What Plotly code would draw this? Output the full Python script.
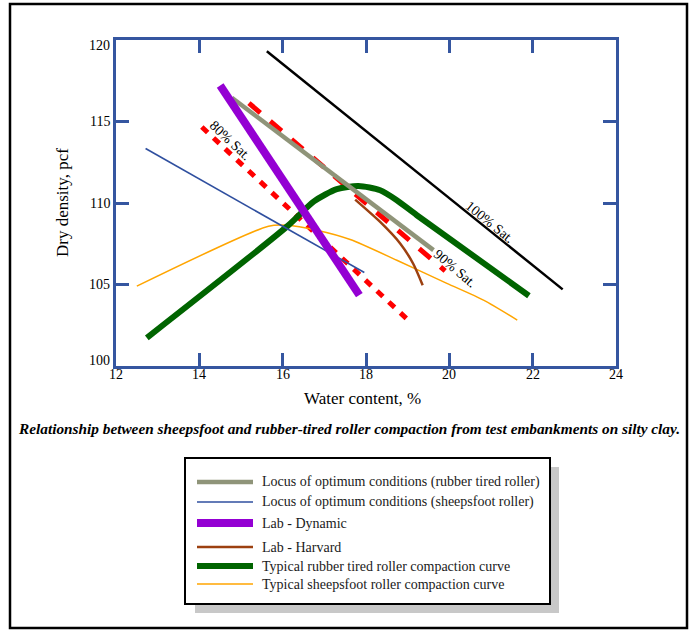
import plotly.graph_objects as go

# ---- data (water content %, dry density pcf) ----
sat100_w = [15.62, 22.72]
sat100_d = [119.31, 104.70]

sat90_w = [15.19, 19.90]
sat90_d = [116.13, 105.84]

sat80_w = [14.06, 19.01]
sat80_d = [114.66, 102.82]

locus_rubber_w = [14.78, 19.62]
locus_rubber_d = [116.46, 107.11]

locus_sheeps_w = [12.71, 17.96]
locus_sheeps_d = [113.34, 105.74]

lab_dynamic_w = [14.50, 17.84]
lab_dynamic_d = [117.21, 104.35]

lab_harvard_w = [17.74, 18.34, 18.82, 19.13, 19.36]
lab_harvard_d = [110.21, 108.84, 107.52, 106.29, 104.96]

rubber_curve_w = [12.74, 16.10, 16.75, 17.30, 17.82, 18.34, 18.74, 19.22, 21.91]
rubber_curve_d = [101.73, 108.55, 110.10, 110.85, 111.04, 110.78, 110.17, 109.25, 104.31]

sheeps_curve_w = [12.50, 15.66, 16.10, 16.82, 17.62, 18.74, 19.94, 20.82, 21.63]
sheeps_curve_d = [104.90, 108.58, 108.64, 108.33, 107.76, 106.49, 105.07, 104.04, 102.82]

x_ticks = [12, 14, 16, 18, 20, 22, 24]
y_ticks = [100, 105, 110, 115, 120]

legend_names = [
    "Locus of optimum conditions (rubber tired roller)",
    "Locus of optimum conditions (sheepsfoot roller)",
    "Lab - Dynamic",
    "Lab - Harvard",
    "Typical rubber tired roller compaction curve",
    "Typical sheepsfoot roller compaction curve",
]

SERIF = "Liberation Serif, Times New Roman, serif"
AXIS_BLUE = "#3556a0"
C_GRAY = "#8f9479"
C_BLUE = "#2f4f9f"
C_PURPLE = "#9400d3"
C_BROWN = "#9c4010"
C_GREEN = "#006400"
C_ORANGE = "#ffa500"

W, H = 690, 634
L, R, T, B = 116, 616, 40, 366  # plot area in pixels


def px(x):
    return (x - L) / (R - L)


def py(y):
    return (B - y) / (B - T)


def text(x, y, s, size, xref="paper", yref="paper", angle=0, xanchor="center",
         yanchor="middle", color="black", yshift=0):
    return dict(x=x, y=y, xref=xref, yref=yref, text=s, textangle=angle,
                xanchor=xanchor, yanchor=yanchor, showarrow=False, yshift=yshift,
                font=dict(family=SERIF, size=size, color=color))


fig = go.Figure()


def add_line(xs, ys, color, width, dash="solid", shape="linear"):
    fig.add_trace(go.Scatter(
        x=xs, y=ys, mode="lines", showlegend=False, hoverinfo="skip",
        line=dict(color=color, width=width, dash=dash, shape=shape, smoothing=0.7),
    ))


# saturation lines
add_line(sat100_w, sat100_d, "black", 2.5)
add_line(sat90_w, sat90_d, "#ff0000", 5, dash="15px,13px")
add_line(sat80_w, sat80_d, "#ff0000", 5, dash="8px,8px")

# compaction curves and loci
add_line(sheeps_curve_w, sheeps_curve_d, C_ORANGE, 1.5, shape="spline")
add_line(rubber_curve_w, rubber_curve_d, C_GREEN, 6, shape="spline")
add_line(locus_sheeps_w, locus_sheeps_d, C_BLUE, 1.6)
add_line(lab_harvard_w, lab_harvard_d, C_BROWN, 2.5, shape="spline")
add_line(locus_rubber_w, locus_rubber_d, C_GRAY, 4.5)
add_line(lab_dynamic_w, lab_dynamic_d, C_PURPLE, 8)

annotations = [
    text(20.98, 108.82, "100% Sat.", 14, xref="x", yref="y", angle=39),
    text(20.14, 106.0, "90% Sat.", 14, xref="x", yref="y", angle=40),
    text(14.74, 113.84, "80% Sat.", 14, xref="x", yref="y", angle=43),
    # axis titles
    text(px(362), py(398), "Water content, %", 17),
    text(px(62), py(203), "Dry density, pcf", 17, angle=-90),
    # caption
    text(px(349), py(428),
         "<b><i>Relationship between sheepsfoot and rubber-tired roller compaction "
         "from test embankments on silty clay.</i></b>", 15.3),
]

# tick labels
for v in x_ticks:
    annotations.append(text(v, py(374), str(v), 14, xref="x"))
for v in y_ticks:
    shift = -5 if v == y_ticks[-1] else (6 if v == y_ticks[0] else 0)
    annotations.append(text(px(112), v, str(v), 14, yref="y", xanchor="right", yshift=shift))

shapes = [
    # outer frame
    dict(type="rect", xref="paper", yref="paper", x0=px(10), x1=px(687), y0=py(4), y1=py(628),
         line=dict(color="black", width=2.5), fillcolor="rgba(0,0,0,0)", layer="below"),
    # legend shadow and box
    dict(type="rect", xref="paper", yref="paper", x0=px(195), x1=px(559), y0=py(467), y1=py(613),
         line=dict(width=0), fillcolor="#c8c8c8", layer="above"),
    dict(type="rect", xref="paper", yref="paper", x0=px(185), x1=px(550), y0=py(458), y1=py(604),
         line=dict(color="black", width=2), fillcolor="white", layer="above"),
]

legend_styles = [
    (C_GRAY, 4.5), (C_BLUE, 1.6), (C_PURPLE, 8), (C_BROWN, 2.5), (C_GREEN, 6), (C_ORANGE, 1.5)
]
legend_rows = [482, 502, 523, 547, 566, 584]
for name, (col, wd), yy in zip(legend_names, legend_styles, legend_rows):
    shapes.append(dict(type="line", xref="paper", yref="paper",
                       x0=px(197), x1=px(253), y0=py(yy), y1=py(yy),
                       line=dict(color=col, width=wd), layer="above"))
    annotations.append(text(px(260), py(yy), name, 14, xanchor="left", color="#1a1a1a"))

axis_common = dict(
    showline=True, linecolor=AXIS_BLUE, linewidth=3, mirror="ticks",
    ticks="inside", ticklen=13, tickwidth=3, tickcolor=AXIS_BLUE,
    showgrid=False, zeroline=False, showticklabels=False,
)

fig.update_layout(
    width=W, height=H,
    margin=dict(l=L, r=W - R, t=T, b=H - B),
    paper_bgcolor="white", plot_bgcolor="white",
    xaxis=dict(range=[12, 24], tickvals=x_ticks, **axis_common),
    yaxis=dict(range=[100, 120], tickvals=y_ticks, **axis_common),
    annotations=annotations,
    shapes=shapes,
    showlegend=False,
)

fig.write_html("out.html")
